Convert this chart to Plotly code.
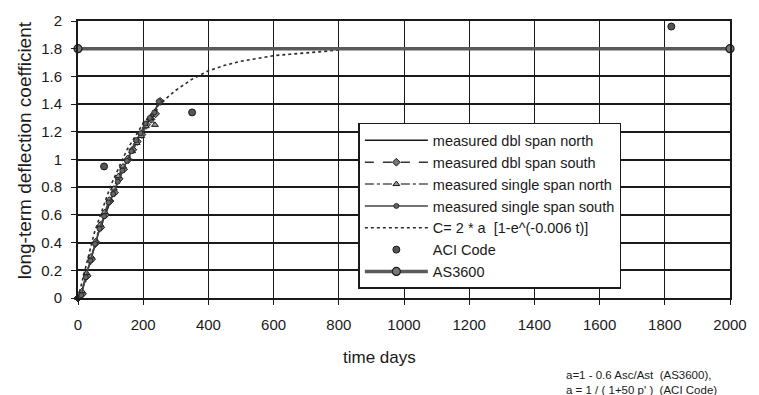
import plotly.graph_objects as go

# Measured long-term deflection coefficients (time in days)
dbl_north_t = [0, 7, 21, 35, 49, 63, 77, 91, 105, 119, 133, 147, 161, 175, 189, 203, 217, 231, 245]
dbl_north_c = [0, 0.0, 0.13, 0.25, 0.36, 0.47, 0.56, 0.65, 0.73, 0.82, 0.90, 0.98, 1.05, 1.11, 1.17, 1.22, 1.28, 1.31, 1.40]

dbl_south_t = [0, 14, 28, 42, 56, 70, 84, 98, 112, 126, 140, 154, 168, 182, 196, 210, 224, 238, 252]
dbl_south_c = [0, 0.03, 0.16, 0.28, 0.40, 0.51, 0.60, 0.70, 0.76, 0.86, 0.93, 1.00, 1.07, 1.13, 1.18, 1.25, 1.29, 1.33, 1.42]

sgl_north_t = [0, 12, 26, 40, 54, 68, 82, 96, 110, 124, 138, 152, 166, 180, 194, 208, 222, 236]
sgl_north_c = [0, 0.05, 0.18, 0.30, 0.41, 0.53, 0.62, 0.71, 0.79, 0.88, 0.95, 1.01, 1.06, 1.12, 1.17, 1.24, 1.30, 1.25]

sgl_south_t = [0, 10, 24, 38, 52, 66, 80, 94, 108, 122, 136, 150, 164, 178, 192, 206, 220, 234, 248]
sgl_south_c = [0, 0.02, 0.15, 0.27, 0.39, 0.50, 0.59, 0.69, 0.75, 0.84, 0.92, 0.99, 1.06, 1.14, 1.19, 1.26, 1.30, 1.34, 1.42]

# Fitted curve C = 2*a*[1 - e^(-0.006 t)]
fit_t = [0, 50, 100, 150, 200, 250, 300, 350, 400, 450, 500, 550, 600, 650, 700, 750, 800]
fit_c = [0, 0.47, 0.81, 1.07, 1.26, 1.40, 1.50, 1.58, 1.64, 1.68, 1.71, 1.73, 1.75, 1.76, 1.77, 1.78, 1.79]

# Code predictions
aci_t = [80, 350, 1820]
aci_c = [0.95, 1.34, 1.96]

as3600_t = [0, 2000]
as3600_c = [1.8, 1.8]

x_ticks = [0, 200, 400, 600, 800, 1000, 1200, 1400, 1600, 1800, 2000]
y_ticks = [0, 0.2, 0.4, 0.6, 0.8, 1, 1.2, 1.4, 1.6, 1.8, 2]
y_tick_text = ["0", "0.2", "0.4", "0.6", "0.8", "1", "1.2", "1.4", "1.6", "1.8", "2"]

FONT = "Liberation Sans, Arial, sans-serif"
INK = "#1a1a1a"

fig = go.Figure()

fig.add_trace(go.Scatter(
    x=dbl_north_t, y=dbl_north_c, name="measured dbl span north",
    mode="lines", line=dict(color=INK, width=1.5), cliponaxis=False))
fig.add_trace(go.Scatter(
    x=dbl_south_t, y=dbl_south_c, name="measured dbl span south",
    mode="lines+markers", line=dict(color="#333", width=1.5, dash="dash"),
    marker=dict(symbol="diamond", size=6, color="#777", line=dict(color=INK, width=1)),
    cliponaxis=False))
fig.add_trace(go.Scatter(
    x=sgl_north_t, y=sgl_north_c, name="measured single span north",
    mode="lines+markers", line=dict(color="#555", width=1.5, dash="dashdot"),
    marker=dict(symbol="triangle-up", size=6, color="#999", line=dict(color=INK, width=1)),
    cliponaxis=False))
fig.add_trace(go.Scatter(
    x=sgl_south_t, y=sgl_south_c, name="measured single span south",
    mode="lines+markers", line=dict(color="#444", width=1.5),
    marker=dict(symbol="circle", size=5, color="#666", line=dict(color=INK, width=0.8)),
    cliponaxis=False))
fig.add_trace(go.Scatter(
    x=fit_t, y=fit_c, name="C= 2 * a  [1-e^(-0.006 t)]",
    mode="lines", line=dict(color="#2a2a2a", width=1.6, dash="dot"), cliponaxis=False))
fig.add_trace(go.Scatter(
    x=aci_t, y=aci_c, name="ACI Code",
    mode="markers", marker=dict(symbol="circle", size=7, color="#555", line=dict(color=INK, width=1)),
    cliponaxis=False))
fig.add_trace(go.Scatter(
    x=as3600_t, y=as3600_c, name="AS3600",
    mode="lines+markers", line=dict(color="#5a5a5a", width=3.5),
    marker=dict(symbol="circle", size=8, color="#777", line=dict(color=INK, width=1.2)),
    cliponaxis=False))

fig.update_layout(
    width=759, height=395,
    margin=dict(l=78, r=21, t=16, b=97),
    paper_bgcolor="white", plot_bgcolor="white",
    font=dict(family=FONT, color=INK, size=15),
    legend=dict(
        x=0.43, y=0.632, xanchor="left", yanchor="top",
        bgcolor="white", bordercolor=INK, borderwidth=1.5,
        font=dict(family=FONT, size=14.5, color=INK),
        itemwidth=63, tracegroupgap=0,
        entrywidth=290, entrywidthmode="pixels",
    ),
    xaxis=dict(
        range=[0, 2000], tickvals=x_ticks,
        showgrid=True, gridcolor=INK, gridwidth=1.3,
        showline=True, linecolor=INK, linewidth=1.8, mirror=True,
        ticks="outside", ticklen=5, tickcolor=INK, tickwidth=1.3,
        ticklabelstandoff=7, zeroline=False,
        tickfont=dict(size=15),
    ),
    yaxis=dict(
        range=[0, 2], tickvals=y_ticks, ticktext=y_tick_text,
        showgrid=True, gridcolor=INK, gridwidth=1.7,
        showline=True, linecolor=INK, linewidth=1.8, mirror=True,
        ticks="outside", ticklen=5, tickcolor=INK, tickwidth=1.3,
        ticklabelstandoff=6, zeroline=False, tickfont=dict(size=15),
    ),
)

# Axis titles
fig.add_annotation(
    text="time days", xref="paper", yref="paper",
    x=(383 - 78) / 660, y=-(359 - 298) / 282, xanchor="center", yanchor="middle",
    showarrow=False, font=dict(size=17, color=INK))
fig.add_annotation(
    text="long-term deflection coefficient", xref="paper", yref="paper",
    x=-(78 - 24) / 660, y=(298 - 148) / 282, xanchor="center", yanchor="middle",
    textangle=-90, showarrow=False, font=dict(size=19, color=INK))

# Definitions of the parameter a used in the fitted curve
fig.add_annotation(
    text="a=1 - 0.6 Asc/Ast  (AS3600),<br>a = 1 / ( 1+50 p' )  (ACI Code)",
    xref="paper", yref="paper", align="left",
    x=(570 - 78) / 660, y=-(384 - 298) / 282, xanchor="left", yanchor="middle",
    showarrow=False, font=dict(size=11.5, color=INK))

fig.write_html("out.html")
